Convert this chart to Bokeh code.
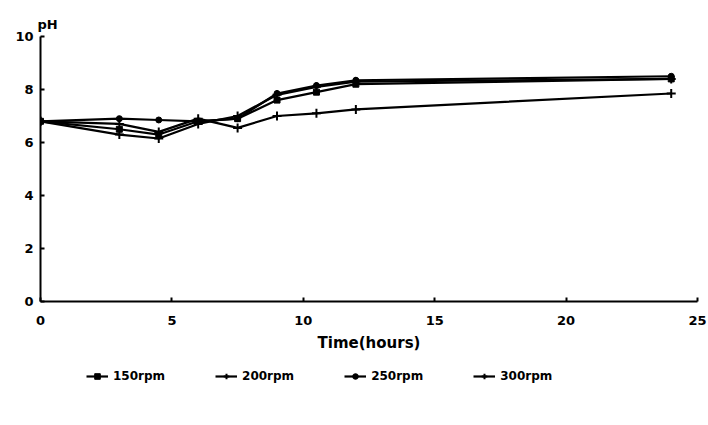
from bokeh.plotting import figure
from bokeh.layouts import column
from bokeh.models import Range1d, FixedTicker, Legend, LegendItem, ColumnDataSource
from bokeh.embed import file_html
from bokeh.resources import INLINE

# Sampling times (hours) and pH readings for each agitation speed
time_h = [0, 3, 4.5, 6, 7.5, 9, 10.5, 12, 24]
ph_150 = [6.8, 6.5, 6.3, 6.8, 6.9, 7.6, 7.9, 8.2, 8.4]
ph_200 = [6.8, 6.3, 6.15, 6.7, 7.0, 7.8, 8.1, 8.3, 8.4]
ph_250 = [6.8, 6.9, 6.85, 6.8, 6.9, 7.85, 8.15, 8.35, 8.5]
ph_300 = [6.8, 6.7, 6.4, 6.9, 6.55, 7.0, 7.1, 7.25, 7.85]
series_labels = ["150rpm", "200rpm", "250rpm", "300rpm"]
x_ticks = [0, 5, 10, 15, 20, 25]
y_ticks = [0, 2, 4, 6, 8, 10]

FONT = "DejaVu Sans"

p = figure(width=708, height=360, x_range=Range1d(0, 25), y_range=Range1d(0, 10),
           output_backend="svg", toolbar_location=None, title="pH",
           min_border_left=40, min_border_right=11, min_border_top=36, min_border_bottom=59)
p.outline_line_color = None
p.xgrid.visible = False
p.ygrid.visible = False
p.background_fill_color = "white"
p.border_fill_color = "white"

p.title.text_font = FONT
p.title.text_font_style = "bold"
p.title.text_font_size = "13px"
p.title.text_color = "black"
p.title.align = "left"
p.title.offset = -3
p.title.standoff = 9

for ax in (p.xaxis, p.yaxis):
    ax.axis_line_width = 2
    ax.axis_line_color = "black"
    ax.major_tick_line_width = 2
    ax.major_tick_out = 0
    ax.major_tick_in = 4
    ax.minor_tick_line_color = None
    ax.major_label_text_font = FONT
    ax.major_label_text_font_style = "bold"
    ax.major_label_text_font_size = "13px"
    ax.major_label_text_color = "black"

p.xaxis.ticker = FixedTicker(ticks=x_ticks)
p.yaxis.ticker = FixedTicker(ticks=y_ticks)
p.xaxis.major_label_standoff = 14
p.yaxis.major_label_standoff = 7
p.xaxis.axis_label = "Time(hours)"
p.xaxis.axis_label_text_font = FONT
p.xaxis.axis_label_text_font_style = "bold"
p.xaxis.axis_label_text_font_size = "15px"
p.xaxis.axis_label_text_color = "black"
p.xaxis.axis_label_standoff = 6

data = [ph_150, ph_200, ph_250, ph_300]
markers = ["square", "cross", "circle", "cross"]


def draw_series(fig, xs, ys, mk):
    src = ColumnDataSource(dict(x=xs, y=ys))
    ln = fig.line("x", "y", source=src, line_color="black", line_width=2.2)
    if mk == "cross":
        sc = fig.scatter("x", "y", source=src, marker=mk, size=9,
                         line_color="black", line_width=2)
    else:
        sc = fig.scatter("x", "y", source=src, marker=mk, size=6,
                         fill_color="black", line_color="black")
    return ln, sc


for ys, mk in zip(data, markers):
    draw_series(p, time_h, ys, mk)

# Key strip underneath the chart. It reuses the series with the same styles; its
# ranges lie outside the data, so only the legend samples show up.
key = figure(width=708, height=65, x_range=Range1d(-2, -1), y_range=Range1d(-2, -1),
             output_backend="svg", toolbar_location=None,
             min_border_left=0, min_border_right=0, min_border_top=0, min_border_bottom=0)
key.axis.visible = False
key.xgrid.visible = False
key.ygrid.visible = False
key.outline_line_color = None
key.border_fill_color = "white"

items = []
for ys, mk, lab in zip(data, markers, series_labels):
    ln, sc = draw_series(key, time_h, ys, mk)
    items.append(LegendItem(label=lab, renderers=[ln, sc]))

legend = Legend(items=items, orientation="horizontal", location=(46, 42),
                border_line_color=None, background_fill_alpha=0,
                label_text_font=FONT, label_text_font_style="bold",
                label_text_font_size="12px", label_text_color="black",
                glyph_width=22, glyph_height=14, spacing=50,
                label_standoff=5, padding=0, margin=0)
key.add_layout(legend, "center")

open("out.html", "w").write(file_html(column(p, key, spacing=0), INLINE))
